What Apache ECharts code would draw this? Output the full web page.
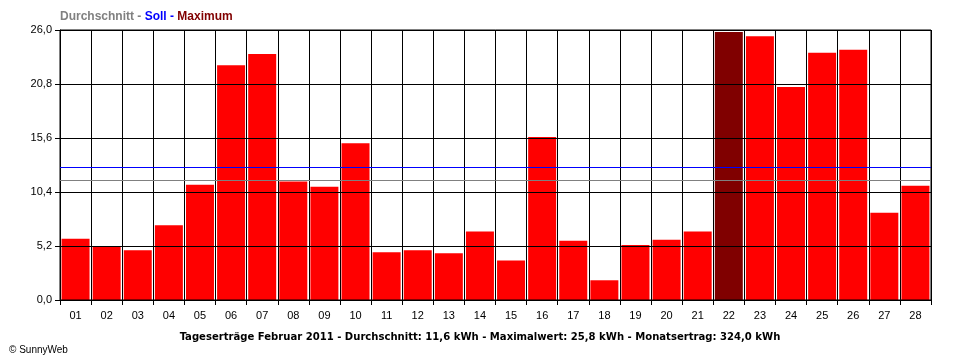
<!DOCTYPE html>
<html>
<head>
<meta charset="utf-8">
<script src="https://cdn.jsdelivr.net/npm/echarts@6/dist/echarts.min.js"></script>
<style>
html,body{margin:0;padding:0;background:#fff;}
#c{width:960px;height:360px;}
</style>
</head>
<body>
<div id="c"></div>
<script>
const days = ['01','02','03','04','05','06','07','08','09','10','11','12','13','14','15','16','17','18','19','20','21','22','23','24','25','26','27','28'];
const yields = [5.9,5.2,4.8,7.2,11.1,22.6,23.7,11.4,10.9,15.1,4.6,4.8,4.5,6.6,3.8,15.7,5.7,1.9,5.3,5.8,6.6,25.8,25.4,20.5,23.8,24.1,8.4,11.0];
const avgYield = 11.5;
const sollYield = 12.8;
const yMax = 26;
const yStep = 5.2;
const bottomTitle = 'Tageserträge Februar 2011 - Durchschnitt: 11,6 kWh - Maximalwert: 25,8 kWh - Monatsertrag: 324,0 kWh';
const copyright = '© SunnyWeb';

const maxVal = Math.max(...yields);
const chart = echarts.init(document.getElementById('c'), null, {renderer:'canvas'});
const FONT = 'Liberation Sans, Arial, sans-serif';

chart.setOption({
  animation:false,
  backgroundColor:'#fff',
  title:[
    {
      left:60, top:11, padding:0,
      text:'{g|Durchschnitt - }{b|Soll - }{r|Maximum}',
      textStyle:{
        rich:{
          g:{color:'#808080',fontWeight:'bold',fontSize:12,fontFamily:FONT},
          b:{color:'#0000FF',fontWeight:'bold',fontSize:12,fontFamily:FONT},
          r:{color:'#800000',fontWeight:'bold',fontSize:12,fontFamily:FONT}
        }
      }
    },
    {
      left:'center', top:327,
      text:bottomTitle,
      textStyle:{color:'#000',fontWeight:'bold',fontSize:11.2,fontFamily:'Liberation Sans Narrow, DejaVu Sans Condensed, Arial Narrow, sans-serif'}
    },
    {
      left:4, top:340,
      text:copyright,
      textStyle:{color:'#000',fontWeight:'normal',fontSize:10,fontFamily:FONT}
    }
  ],
  grid:{left:60,right:29,top:30,bottom:60,show:true,borderColor:'#000',borderWidth:1,z:3},
  xAxis:{
    type:'category',
    data:days,
    boundaryGap:true,
    axisLine:{lineStyle:{color:'#000',width:1}},
    axisTick:{show:true,length:5,inside:false,alignWithLabel:false,lineStyle:{color:'#000'}},
    splitLine:{show:true,lineStyle:{color:'#000',width:1}},
    axisLabel:{color:'#000',fontSize:11,fontFamily:FONT,margin:10}
  },
  yAxis:{
    type:'value',
    z:3,
    min:0,max:yMax,interval:yStep,
    axisLine:{show:true,lineStyle:{color:'#000',width:1}},
    axisTick:{show:true,length:5,lineStyle:{color:'#000'}},
    splitLine:{show:true,lineStyle:{color:'#000',width:1}},
    axisLabel:{color:'#000',fontSize:11,fontFamily:FONT,margin:8,
      formatter:v=>v.toFixed(1).replace('.',',')}
  },
  series:[{
    type:'bar',
    data:yields,
    barWidth:'90%',
    itemStyle:{color:p=>p.value===maxVal?'#800000':'#FF0000'},
    z:2,
    markLine:{
      silent:true,
      symbol:['none','none'],
      label:{show:false},
      z:4,
      data:[
        {yAxis:sollYield,lineStyle:{color:'#0000FF',width:1,type:'solid'}},
        {yAxis:avgYield,lineStyle:{color:'#808080',width:1,type:'solid'}}
      ]
    }
  }]
});
</script>
</body>
</html>
